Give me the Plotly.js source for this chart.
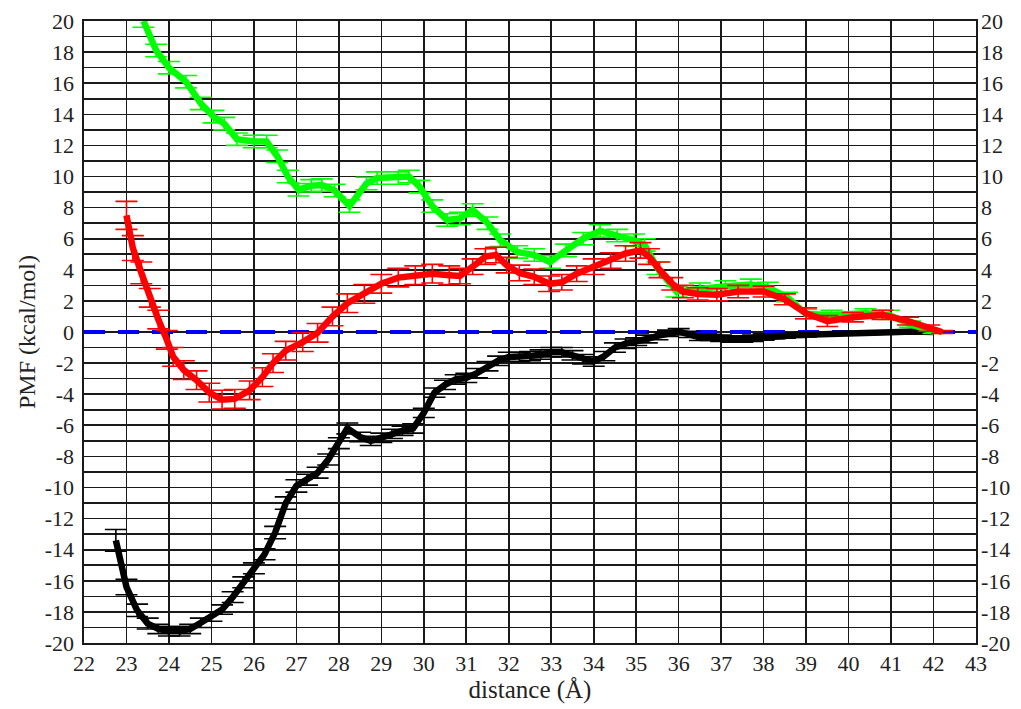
<!DOCTYPE html>
<html>
<head>
<meta charset="utf-8">
<script src="https://cdn.plot.ly/plotly-3.0.1.min.js"></script>
<style>html,body{margin:0;padding:0;background:#fff;}#chart{width:1021px;height:709px;}</style>
</head>
<body>
<div id="chart"></div>
<script>
// Black series
const blackX = [22.75,23.0,23.25,23.5,23.75,24.0,24.25,24.5,24.75,25.0,25.25,25.5,25.75,26.0,26.25,26.5,26.75,27.0,27.25,27.5,27.75,28.0,28.2,28.5,28.75,29.0,29.25,29.5,29.75,30.0,30.25,30.5,30.75,31.0,31.25,31.5,31.75,32.0,32.25,32.5,32.75,33.0,33.25,33.5,33.75,34.0,34.25,34.5,34.75,35.0,35.25,35.5,35.75,36.0,36.25,36.5,36.75,37.0,37.25,37.5,37.75,38.0,38.25,38.5,38.75,39.0,39.5,40.0,40.5,41.0,41.5,42.0];
const blackY = [-13.4,-16.4,-17.9,-18.75,-19.1,-19.25,-19.25,-19.1,-18.7,-18.3,-17.85,-17.05,-16.1,-15.2,-14.3,-12.9,-11.0,-9.9,-9.5,-9.05,-8.2,-7.15,-6.2,-6.75,-7.0,-6.8,-6.55,-6.35,-6.2,-5.2,-3.9,-3.4,-3.05,-2.95,-2.65,-2.2,-1.85,-1.6,-1.6,-1.55,-1.45,-1.3,-1.3,-1.5,-1.75,-1.9,-1.55,-1.0,-0.75,-0.62,-0.45,-0.25,-0.08,0.02,-0.15,-0.35,-0.35,-0.4,-0.45,-0.45,-0.4,-0.32,-0.28,-0.25,-0.2,-0.17,-0.1,-0.08,-0.06,-0.02,0.03,0.0];
const blackErr = [0.7,0.5,0.4,0.35,0.3,0.3,0.3,0.3,0.3,0.3,0.3,0.35,0.35,0.35,0.35,0.4,0.4,0.4,0.35,0.35,0.35,0.35,0.35,0.3,0.3,0.3,0.3,0.3,0.3,0.3,0.3,0.3,0.3,0.3,0.3,0.3,0.3,0.3,0.3,0.3,0.3,0.3,0.3,0.3,0.3,0.3,0.3,0.3,0.3,0.25,0.25,0.25,0.2,0.2,0.2,0.2,0.2,0.2,0.2,0.2,0.2,0.2,0.15,0.15,0.15,0.15,0.1,0.1,0.1,0.1,0.05,0.0];

// Red series
const redX = [23.0,23.15,23.35,23.55,23.75,23.95,24.1,24.35,24.65,24.95,25.25,25.55,25.9,26.2,26.45,26.75,27.15,27.5,27.85,28.2,28.6,29.0,29.4,29.8,30.2,30.6,30.85,31.15,31.45,31.7,31.95,32.25,32.6,32.95,33.25,33.6,34.0,34.4,34.75,35.1,35.3,35.55,35.85,36.1,36.45,36.9,37.4,38.0,38.5,39.0,39.5,40.1,40.8,41.4,41.9,42.2];
const redY = [7.5,5.4,3.8,2.2,0.8,-0.5,-1.6,-2.45,-3.1,-3.9,-4.35,-4.3,-3.75,-2.9,-2.0,-1.2,-0.65,-0.05,1.0,1.85,2.45,3.1,3.5,3.65,3.75,3.65,3.6,4.2,4.85,4.95,4.3,3.8,3.55,3.1,3.2,3.75,4.2,4.6,5.05,5.25,4.85,4.0,3.1,2.6,2.45,2.4,2.6,2.6,2.1,1.2,0.7,0.95,1.1,0.7,0.25,0.0];
const redErr = [0.9,0.8,0.7,0.6,0.6,0.6,0.6,0.6,0.6,0.6,0.6,0.6,0.6,0.6,0.6,0.6,0.6,0.6,0.6,0.6,0.6,0.6,0.6,0.6,0.6,0.6,0.5,0.5,0.5,0.5,0.5,0.5,0.5,0.5,0.5,0.5,0.5,0.5,0.5,0.5,0.5,0.5,0.4,0.4,0.4,0.4,0.4,0.35,0.35,0.35,0.35,0.3,0.3,0.25,0.2,0.1];

// Green series
const greenX = [23.4,23.7,24.0,24.4,24.75,25.05,25.3,25.6,26.0,26.3,26.55,26.8,27.05,27.35,27.6,27.9,28.25,28.65,28.9,29.4,29.65,29.9,30.2,30.55,30.85,31.15,31.5,31.8,32.2,32.6,32.97,33.35,33.75,34.15,34.55,34.95,35.2,35.5,35.95,36.5,37.1,37.7,38.1,38.55,39.0,39.6,40.4,40.95,41.45,42.0];
const greenY = [20.0,18.1,17.0,16.1,14.7,13.85,13.4,12.4,12.25,12.25,11.3,10.0,9.15,9.4,9.45,9.1,8.1,9.55,9.9,9.9,10.0,9.35,8.1,7.2,7.3,7.85,7.0,5.9,5.15,4.95,4.5,5.25,6.0,6.5,6.2,5.9,5.6,4.1,2.6,2.8,2.95,3.05,2.85,2.25,1.15,1.1,1.2,1.1,0.5,0.0];
const greenErr = [0.4,0.4,0.4,0.4,0.4,0.4,0.4,0.4,0.4,0.4,0.4,0.4,0.4,0.4,0.4,0.4,0.4,0.4,0.4,0.4,0.4,0.4,0.4,0.4,0.4,0.4,0.4,0.4,0.4,0.4,0.4,0.4,0.4,0.4,0.4,0.4,0.4,0.4,0.35,0.35,0.35,0.35,0.35,0.3,0.3,0.3,0.3,0.3,0.2,0.1];

// Reference line
const refX = [22, 43];
const refY = [0, 0];

const xTicks = [22,23,24,25,26,27,28,29,30,31,32,33,34,35,36,37,38,39,40,41,42,43];
const yTicks = [-20,-18,-16,-14,-12,-10,-8,-6,-4,-2,0,2,4,6,8,10,12,14,16,18,20];

const FONT = 'Liberation Serif';

function series(x, y, e, color) {
  return {
    x: x, y: y, type: 'scatter', mode: 'lines',
    line: {color: color, width: 6.5},
    error_y: {type: 'data', array: e, visible: true, color: color, thickness: 1.6, width: 11},
    showlegend: false, hoverinfo: 'skip'
  };
}

const traces = [
  {x: refX, y: refY, type: 'scatter', mode: 'lines', line: {color: '#0000ff', width: 4, dash: '21px,13px'}, showlegend: false, hoverinfo: 'skip'},
  series(blackX, blackY, blackErr, '#000000'),
  series(greenX, greenY, greenErr, '#00ff00'),
  series(redX, redY, redErr, '#ff0000'),
  {x: [22], y: [0], yaxis: 'y2', type: 'scatter', mode: 'markers', marker: {opacity: 0}, showlegend: false, hoverinfo: 'skip'}
];

const layout = {
  width: 1021, height: 709,
  margin: {l: 84, r: 45, t: 21, b: 66},
  paper_bgcolor: '#ffffff', plot_bgcolor: '#ffffff',
  font: {family: FONT, size: 22, color: '#222'},
  xaxis: {
    range: [22, 43], tickmode: 'array', tickvals: xTicks, ticktext: xTicks.map(String),
    showgrid: true, gridcolor: '#1a1a1a', gridwidth: 1.6, zeroline: false,
    showline: true, linecolor: '#1a1a1a', linewidth: 1.6, mirror: true,
    ticks: '', tickfont: {family: FONT, size: 22, color: '#222'},
    title: {text: 'distance (Å)', font: {family: FONT, size: 25, color: '#222'}, standoff: 2}
  },
  yaxis: {
    range: [-20, 20], tickmode: 'array', tickvals: yTicks, ticktext: yTicks.map(String),
    showgrid: true, gridcolor: '#1a1a1a', gridwidth: 1.6, zeroline: false,
    minor: {dtick: 1, showgrid: true, gridcolor: '#1a1a1a', gridwidth: 1.6, ticks: ''},
    showline: true, linecolor: '#1a1a1a', linewidth: 1.6, mirror: true,
    ticks: '', tickfont: {family: FONT, size: 22, color: '#222'}, ticklabelstandoff: 4,
    title: {text: 'PMF (kcal/mol)', font: {family: FONT, size: 24, color: '#222'}, standoff: 2}
  },
  yaxis2: {
    range: [-20, 20], overlaying: 'y', side: 'right', tickmode: 'array', tickvals: yTicks, ticktext: yTicks.map(String),
    showgrid: false, zeroline: false, showline: false, ticks: '', tickfont: {family: FONT, size: 22, color: '#222'}, ticklabelstandoff: 4
  }
};

Plotly.newPlot('chart', traces, layout, {staticPlot: true, displayModeBar: false});
</script>
</body>
</html>
